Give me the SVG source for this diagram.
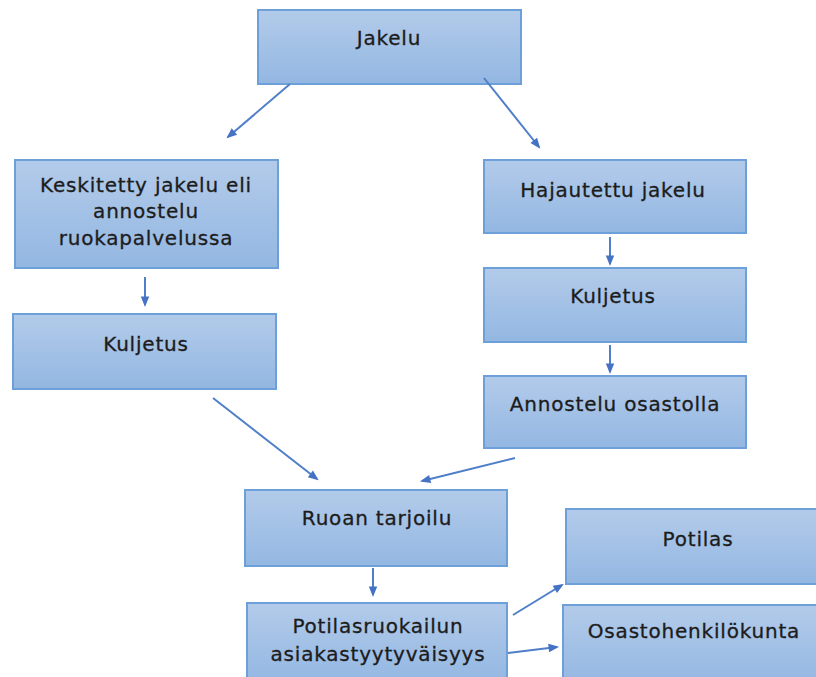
<svg xmlns="http://www.w3.org/2000/svg" width="816" height="677" viewBox="0 0 816 677">
<defs>
<linearGradient id="g" x1="0" y1="0" x2="0" y2="1">
<stop offset="0" stop-color="#b3cbea"/>
<stop offset="1" stop-color="#93b7e2"/>
</linearGradient>
<marker id="ah" viewBox="0 0 10 10" refX="9" refY="5" markerWidth="7" markerHeight="7" markerUnits="userSpaceOnUse" orient="auto" overflow="visible">
<path d="M-3,-1 L12,5 L-3,11 z" fill="#4472c4"/>
</marker>
</defs>
<style>
.box{fill:url(#g);stroke:#6d9fd9;stroke-width:2}
.t{font-family:"DejaVu Sans","Open Sans",sans-serif;font-size:20px;letter-spacing:0.8px;fill:#1c1c1c;stroke:#1c1c1c;stroke-width:0.3;text-anchor:middle}
.c{stroke:#4f7fc8;stroke-width:2;fill:none;marker-end:url(#ah)}
</style>
<rect width="816" height="677" fill="#fff"/>
<g id="jakelu"><rect class="box" x="258" y="10" width="263" height="74"/><text class="t" x="389" y="45">Jakelu</text></g>
<g id="keskitetty"><rect class="box" x="15" y="160" width="263" height="108"/><text class="t" x="146" y="192">Keskitetty jakelu eli</text><text class="t" x="146" y="218">annostelu</text><text class="t" x="146" y="245">ruokapalvelussa</text></g>
<g id="kuljetus1"><rect class="box" x="13" y="314" width="263" height="75"/><text class="t" x="146" y="351">Kuljetus</text></g>
<g id="hajautettu"><rect class="box" x="484" y="160" width="262" height="73"/><text class="t" x="613" y="197">Hajautettu jakelu</text></g>
<g id="kuljetus2"><rect class="box" x="484" y="268" width="262" height="74"/><text class="t" x="613" y="303">Kuljetus</text></g>
<g id="annostelu"><rect class="box" x="484" y="376" width="262" height="72"/><text class="t" x="615" y="411">Annostelu osastolla</text></g>
<g id="tarjoilu"><rect class="box" x="245" y="490" width="262" height="76"/><text class="t" x="377" y="525">Ruoan tarjoilu</text></g>
<g id="tyytyvaisyys"><rect class="box" x="247" y="603" width="260" height="80"/><text class="t" x="378" y="633">Potilasruokailun</text><text class="t" x="378" y="661">asiakastyytyväisyys</text></g>
<g id="potilas"><rect class="box" x="566" y="509" width="256" height="75"/><text class="t" x="698" y="546">Potilas</text></g>
<g id="osastohenkilokunta"><rect class="box" x="563" y="605" width="259" height="80"/><text class="t" x="694" y="638">Osastohenkilökunta</text></g>
<g id="connectors">
<line class="c" x1="290" y1="84" x2="228" y2="137"/>
<line class="c" x1="484" y1="78" x2="539" y2="147"/>
<line class="c" x1="145" y1="277" x2="145" y2="305"/>
<line class="c" x1="213" y1="398" x2="317" y2="479"/>
<line class="c" x1="515" y1="458" x2="422" y2="481"/>
<line class="c" x1="610" y1="237" x2="610" y2="264"/>
<line class="c" x1="610" y1="345" x2="610" y2="372"/>
<line class="c" x1="373" y1="568" x2="373" y2="595"/>
<line class="c" x1="513" y1="615" x2="562" y2="585"/>
<line class="c" x1="508" y1="653" x2="557" y2="647"/>
</g>
</svg>
